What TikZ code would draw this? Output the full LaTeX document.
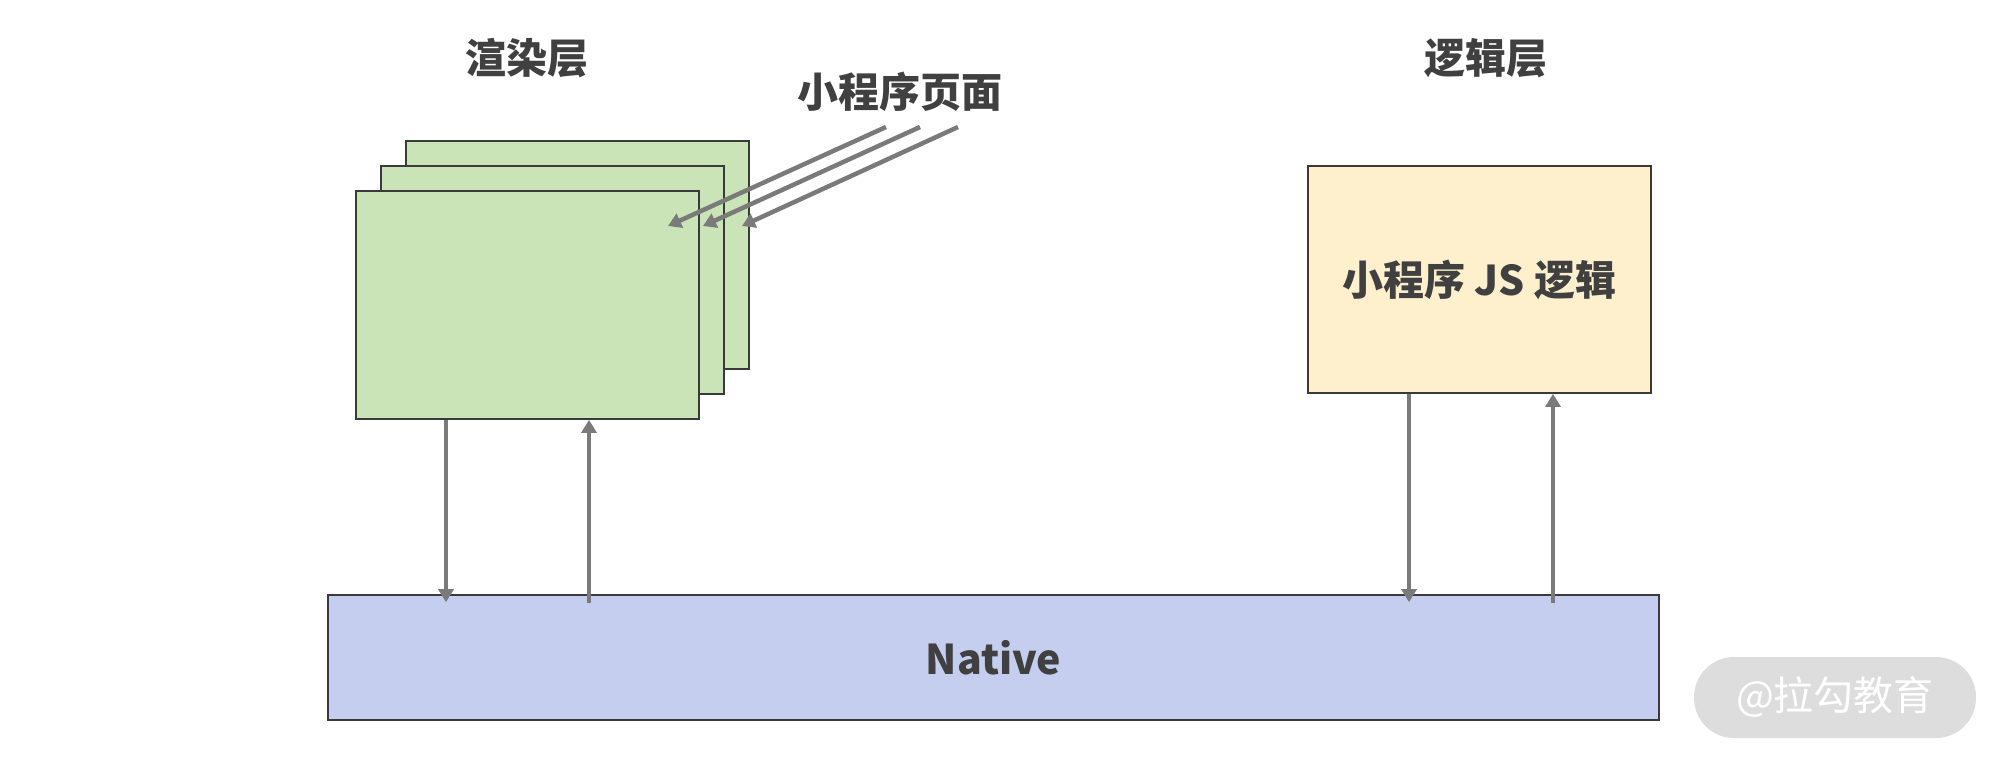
\documentclass[tikz,border=0pt]{standalone}
\usepackage{fontspec}
\newfontfamily\cjk{Noto Sans CJK SC}
\usetikzlibrary{positioning,calc,arrows.meta}
\definecolor{pagegreen}{RGB}{202,228,184}
\definecolor{jsyellow}{RGB}{255,240,205}
\definecolor{nativeblue}{RGB}{198,206,240}
\definecolor{linegray}{RGB}{122,122,122}
\definecolor{edgegray}{RGB}{58,58,58}
\definecolor{txtgray}{RGB}{64,64,64}
\definecolor{markgray}{RGB}{221,221,221}
\begin{document}
\begin{tikzpicture}[x=1pt,y=-1pt,
      font=\cjk\bfseries\fontsize{41}{48}\selectfont,text=txtgray,
      b/.style={draw=edgegray,line width=1.7pt,inner sep=0pt},
      pg/.style={b,fill=pagegreen,minimum width=343pt,minimum height=228pt},
      arr/.style={draw=linegray,line width=4.5pt,-{Triangle[width=15pt,length=13pt]}}]
    \useasboundingbox (0,0) rectangle (2002,764);
    % pages, back to front
    \node[pg] (back) at (577.5,255) {};
    \node[pg] (mid) at (552.5,280) {};
    \node[pg] (front) at (527.5,305) {};
    \node[b,fill=jsyellow,minimum width=343pt,minimum height=227pt] (js) at (1479.5,279.5) {小程序 JS 逻辑};
    \node[b,fill=nativeblue,minimum width=1331pt,minimum height=125pt] (native) at (993.5,657.5) {Native};
    % titles
    \node (render) at (526.5,58) {渲染层};
    \node (logic) at (1486,58) {逻辑层};
    \node (pages) at (900,92) {小程序页面};
    % page arrows
    \coordinate (p1) at (886,127); \coordinate (q1) at (668,226);
    \coordinate (p2) at (920,127); \coordinate (q2) at (703,226);
    \coordinate (p3) at (958,127); \coordinate (q3) at (742,226);
    \foreach \i in {1,2,3}
      \draw[arr] (p\i) -- (q\i);
    % up and down to Native
    \coordinate (r1) at (446,0); \coordinate (r2) at (589,0);
    \coordinate (r3) at (1409,0); \coordinate (r4) at (1553,0);
    \draw[arr,shorten >=-8pt] (front.south -| r1) -- (native.north -| r1);
    \draw[arr,shorten <=-9pt] (native.north -| r2) -- (front.south -| r2);
    \draw[arr,shorten >=-8pt] (js.south -| r3) -- (native.north -| r3);
    \draw[arr,shorten <=-9pt] (native.north -| r4) -- (js.south -| r4);
    % watermark
    \node[fill=markgray,rounded corners=40pt,minimum width=282pt,minimum height=81pt,
      font=\cjk\fontsize{40}{48}\selectfont,text=white] (mark) at (1835,697.5) {@拉勾教育};
  \end{tikzpicture}
\end{document}
